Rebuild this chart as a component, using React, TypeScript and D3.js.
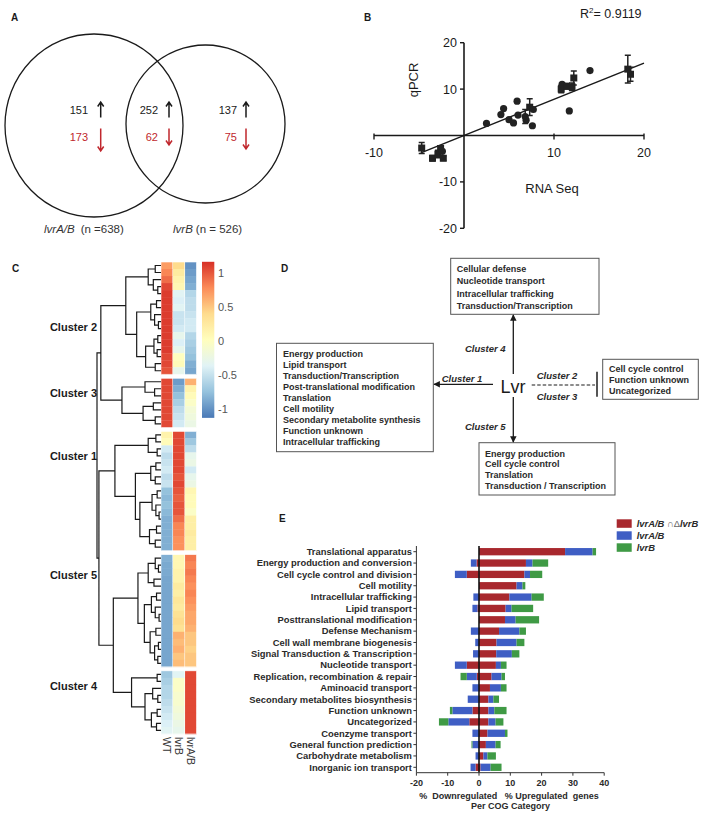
import React from 'react';
import * as d3 from 'd3';

const FONT = '"Liberation Sans", Arial, Helvetica, sans-serif';
const INK = '#1a1a1a';
const RED_TXT = '#c0272d';

// ---------- Panel A: Venn counts ----------
const vennUp = [151, 252, 137];
const vennDown = [173, 62, 75];
const vennNames = ['lvrA/B', 'lvrB'];
const vennN = ['(n =638)', '(n = 526)'];

// ---------- Panel B: qPCR vs RNA seq ----------
const rnaSeq = [-4.7, -3.5, -2.9, -2.6, -2.3, -2.4, 2.5, 4.1, 4.4, 5.0, 5.5, 5.9, 6.0, 6.8, 6.9, 7.3, 7.6, 7.7, 10.8, 10.9, 11.4, 11.7, 12.0, 12.2, 14.0, 18.2, 18.5];
const qpcr = [-2.7, -4.9, -4.0, -2.8, -4.9, -3.4, 2.6, 4.5, 5.8, 3.4, 2.7, 7.4, 4.4, 4.1, 3.3, 6.1, 2.1, 5.6, 10.0, 11.0, 10.6, 5.3, 10.5, 12.4, 14.0, 14.3, 13.2];
const qpcrErr = [1.2, 0.6, 0.8, 0.6, 0.5, 0, 0, 0, 0, 0, 0, 0, 0, 1.5, 0, 1.8, 0, 0, 0.8, 0, 0.6, 0, 0.8, 1.5, 0, 3.0, 1.5];
const markerSq = [1, 1, 1, 1, 1, 0, 0, 0, 0, 0, 0, 0, 0, 0, 0, 1, 0, 0, 1, 0, 1, 0, 1, 1, 0, 1, 1];
const regSlope = 0.78;
const regIntercept = 0.0;
const regRange = [-4.8, 20];
const xTicksB = [-10, 10, 20];
const yTicksB = [20, 10, -10, -20];

// ---------- Panel C: heatmap ----------
const clusterNames = ['Cluster 2', 'Cluster 3', 'Cluster 1', 'Cluster 5', 'Cluster 4'];
const heatCols = ['WT', 'lvrB', 'lvrA/B'];
const heatWT = [
  [0.7, 0.8, 0.9, 1.05, 1.1, 1.1, 1.1, 1.1, 1.1, 1.1, 1.1, 1.1, 1.1, 1.05, 1.05, 1.0],
  [1.05, 1.05, 1.05, 1.05, 1.05, 1.05, 1.05],
  [0.15, 0.05, -0.45, -0.55, -0.5, -0.45, -0.55, -0.5, -0.75, -0.8, -0.75, -0.8, -0.85, -0.85, -0.85, -0.85, -0.85],
  [-0.85, -0.88, -0.88, -0.9, -0.9, -0.9, -0.9, -0.9, -0.9, -0.9, -0.9, -0.9, -0.9, -0.9, -0.9, -0.9],
  [-0.7, -0.65, -0.6, -0.6, -0.55, -0.5, -0.45, -0.4, -0.35],
];
const heatB = [
  [0.4, 0.25, 0.15, 0.1, -0.35, -0.4, -0.35, -0.5, -0.5, -0.45, -0.3, -0.4, -0.3, 0.0, 0.05, -0.3],
  [-0.95, -0.85, -0.75, -0.65, -0.55, -0.5, -0.45],
  [1.05, 1.05, 1.05, 1.05, 1.05, 1.05, 1.0, 1.05, 1.0, 0.95, 1.0, 1.0, 0.9, 0.8, 0.8, 0.75, 0.75],
  [0.1, 0.1, 0.15, 0.15, 0.25, 0.2, 0.3, 0.25, 0.35, 0.4, 0.35, 0.6, 0.55, 0.6, 0.5, 0.55],
  [-0.35, -0.05, -0.05, -0.1, -0.1, -0.15, -0.2, -0.25, -0.3],
];
const heatAB = [
  [-1.0, -0.95, -0.9, -0.85, -0.6, -0.55, -0.55, -0.5, -0.45, -0.45, -0.6, -0.65, -0.7, -0.75, -0.85, -0.9],
  [0.6, 0.15, 0.05, -0.05, -0.15, -0.2, -0.25],
  [-0.85, -0.7, -0.55, -0.3, -0.25, -0.45, -0.3, -0.25, 0.1, 0.05, 0.05, -0.05, 0.2, 0.2, 0.25, 0.2, 0.2],
  [0.85, 0.8, 0.85, 0.8, 0.75, 0.8, 0.75, 0.7, 0.65, 0.65, 0.6, 0.5, 0.5, 0.45, 0.5, 0.5],
  [1.05, 1.05, 1.05, 1.05, 1.05, 1.05, 1.05, 1.05, 1.05],
];
const colorbarTicks = [1, 0.5, 0, -0.5, -1];

// dendrogram: leaf = 0, node = [height, left, right]
type T = 0 | [number, T, T];
const treeC2: T = [5.5, [2.0, [0.9, 0, 0], [1.2, 0, [0.5, 0, 0]]], [3.8, [1.6, [0.7, 0, 0], [1.0, 0, [0.4, 0, 0]]], [2.4, [1.1, [0.5, 0, 0], [0.6, 0, 0]], [0.9, 0, 0]]]];
const treeC3: T = [6.1, [2.5, 0, [1.0, 0, 0]], [2.8, [1.2, 0, 0], [0.9, 0, 0]]];
const treeC1: T = [7.2, [2.0, [0.8, 0, 0], [0.6, 0, 0]], [4.0, [1.6, [0.8, 0, 0], [0.9, 0, 0]], [3.3, [1.4, [0.6, 0, 0], [0.8, 0, [0.3, 0, 0]]], [1.8, [0.7, 0, 0], [0.9, 0, 0]]]]];
const treeC5: T = [3.6, [2.0, [0.9, 0, [0.4, 0, 0]], [1.1, 0, 0]], [2.6, [1.5, [0.7, 0, 0], [0.9, 0, [0.3, 0, 0]]], [1.7, [0.8, 0, 0], [1.0, [0.4, 0, 0], [0.5, 0, 0]]]]];
const treeC4: T = [4.6, [0.6, 0, 0], [2.5, [1.3, 0, [0.5, 0, 0]], [1.5, [0.6, 0, 0], [0.7, 0, 0]]]];
const treeRoot: T = [10, [9.4, treeC2, treeC3], [9.7, treeC1, [7.45, treeC5, treeC4]]];

// ---------- Panel D: network summary ----------
const boxTop = ['Cellular defense', 'Nucleotide transport', 'Intracellular trafficking', 'Transduction/Transcription'];
const boxLeft = ['Energy production', 'Lipid transport', 'Transduction/Transcription', 'Post-translational modification', 'Translation', 'Cell motility', 'Secondary metabolite synthesis', 'Function unknown', 'Intracellular trafficking'];
const boxRight = ['Cell cycle control', 'Function unknown', 'Uncategorized'];
const boxBottom = ['Energy production', 'Cell cycle control', 'Translation', 'Transduction / Transcription'];

// ---------- Panel E: COG categories ----------
const cogCats = ['Translational apparatus', 'Energy production and conversion', 'Cell cycle control and division', 'Cell motility', 'Intracellular trafficking', 'Lipid transport', 'Posttranslational modification', 'Defense Mechanism', 'Cell wall membrane biogenesis', 'Signal Transduction & Transcription', 'Nucleotide transport', 'Replication, recombination & repair', 'Aminoacid transport', 'Secondary metabolites biosynthesis', 'Function unknown', 'Uncategorized', 'Coenzyme transport', 'General function prediction', 'Carbohydrate metabolism', 'Inorganic ion transport'];
const upBoth = [27.5, 15.0, 14.5, 12.0, 9.7, 8.5, 8.3, 6.4, 5.6, 5.5, 5.4, 4.0, 3.5, 3.0, 3.0, 3.0, 2.7, 2.2, 1.4, 0.5];
const upAB = [8.8, 2.1, 1.8, 1.9, 7.1, 1.9, 3.4, 6.5, 6.4, 5.0, 1.6, 3.2, 3.5, 1.6, 1.9, 2.3, 5.6, 3.1, 1.3, 3.2];
const upB = [1.1, 5.0, 3.9, 0.9, 3.9, 6.9, 7.5, 2.1, 2.5, 2.4, 1.8, 1.1, 1.8, 1.8, 3.9, 2.5, 0.8, 1.6, 2.7, 3.5];
const downBoth = [0, 0.8, 3.9, 0, 0, 0.5, 0, 0, 0, 0, 3.9, 0.7, 0, 0, 2.1, 3.1, 0, 0, 0, 1.1];
const downAB = [0, 1.8, 3.8, 0, 1.8, 1.6, 0, 2.6, 1.2, 1.9, 3.8, 3.2, 2.1, 3.6, 6.4, 6.7, 2.1, 2.1, 1.1, 1.6];
const downB = [0, 0, 0, 0, 0, 0, 0, 0, 0, 0, 0, 2.0, 0, 0, 0.8, 3.0, 0, 0.3, 0, 0];
const cogTicks = [-20, -10, 0, 10, 20, 30, 40];
const cogColors = ['#a8282e', '#3f5ec4', '#3f9a45'];

function Label({ x, y, children, size = 10, weight = 'bold' }: any) {
  return <text x={x} y={y} fontSize={size} fontWeight={weight} fill={INK}>{children}</text>;
}

function PanelA() {
  const upX = [100.7, 169, 246];
  const numX = [88, 158, 237];
  const downLen = [22, 16, 20];
  return (
    <g>
      <Label x={11} y={21}>A</Label>
      <ellipse cx={94} cy={125.5} rx={89} ry={91.5} fill="none" stroke={INK} strokeWidth={1.3} />
      <ellipse cx={205.5} cy={124} rx={79.5} ry={79} fill="none" stroke={INK} strokeWidth={1.3} />
      {vennUp.map((v, i) => (
        <g key={'u' + i}>
          <text x={numX[i]} y={114} textAnchor="end" fontSize={11} fill={INK}>{v}</text>
          <path d={`M${upX[i]},117.5V102.5M${upX[i] - 3},106.5L${upX[i]},102L${upX[i] + 3},106.5`} stroke={INK} strokeWidth={1.5} fill="none" />
        </g>
      ))}
      {vennDown.map((v, i) => (
        <g key={'d' + i}>
          <text x={numX[i]} y={141} textAnchor="end" fontSize={11} fill={RED_TXT}>{v}</text>
          <path d={`M${upX[i]},128.5V${128.5 + downLen[i]}M${upX[i] - 3},${124.5 + downLen[i]}L${upX[i]},${129 + downLen[i]}L${upX[i] + 3},${124.5 + downLen[i]}`} stroke={RED_TXT} strokeWidth={1.5} fill="none" />
        </g>
      ))}
      <text x={44} y={233} fontSize={11.5} fill="#333">
        <tspan fontStyle="italic">{vennNames[0]}</tspan>
        <tspan dx={6}>{vennN[0]}</tspan>
      </text>
      <text x={173} y={233} fontSize={11.5} fill="#333">
        <tspan fontStyle="italic">{vennNames[1]}</tspan>
        <tspan dx={3}>{vennN[1]}</tspan>
      </text>
    </g>
  );
}

function PanelB() {
  const x = d3.scaleLinear().domain([-10, 20]).range([374, 644]);
  const y = d3.scaleLinear().domain([-20, 20]).range([228.3, 42.7]);
  const line = d3.line<number>().x((d) => x(d)).y((d) => y(regIntercept + regSlope * d));
  return (
    <g>
      <Label x={364} y={21}>B</Label>
      <text x={580} y={18} fontSize={12.5} fill={INK}>
        R<tspan dy={-5} fontSize={8}>2</tspan><tspan dy={5}>= 0.9119</tspan>
      </text>
      <line x1={x(-10)} x2={x(20)} y1={y(0)} y2={y(0)} stroke={INK} strokeWidth={1.6} />
      <line x1={x(0)} x2={x(0)} y1={y(20)} y2={y(-20)} stroke={INK} strokeWidth={1.6} />
      {xTicksB.map((t) => (
        <g key={t}>
          <line x1={x(t)} x2={x(t)} y1={y(0) - 2} y2={y(0) + 4} stroke={INK} strokeWidth={1.4} />
          <text x={x(t)} y={y(0) + 21} textAnchor="middle" fontSize={12.5} fill={INK}>{t}</text>
        </g>
      ))}
      {yTicksB.map((t) => (
        <g key={t}>
          <line x1={x(0) - 4} x2={x(0)} y1={y(t)} y2={y(t)} stroke={INK} strokeWidth={1.4} />
          <text x={x(0) - 7} y={y(t) + 4.5} textAnchor="end" fontSize={12.5} fill={INK}>{t}</text>
        </g>
      ))}
      <text transform={`translate(418,80) rotate(-90)`} textAnchor="middle" fontSize={13} fill={INK}>qPCR</text>
      <text x={552} y={193} textAnchor="middle" fontSize={13} fill={INK}>RNA Seq</text>
      <path d={line(regRange) || ''} stroke={INK} strokeWidth={1.5} fill="none" />
      {rnaSeq.map((v, i) => (
        <g key={i} fill="#222" stroke="#222">
          {qpcrErr[i] > 0 && (
            <path d={`M${x(v)},${y(qpcr[i] - qpcrErr[i])}V${y(qpcr[i] + qpcrErr[i])}M${x(v) - 3},${y(qpcr[i] - qpcrErr[i])}h6M${x(v) - 3},${y(qpcr[i] + qpcrErr[i])}h6`} strokeWidth={1.5} fill="none" />
          )}
          {markerSq[i] ? (
            <rect x={x(v) - 3.5} y={y(qpcr[i]) - 3.5} width={7} height={7} stroke="none" />
          ) : (
            <circle cx={x(v)} cy={y(qpcr[i])} r={3.6} stroke="none" />
          )}
        </g>
      ))}
    </g>
  );
}

function PanelC() {
  const top = 262;
  const gap = 4;
  const rowH = 7.015;
  const colX = d3.scaleBand().domain(heatCols).range([161, 196.5]).paddingInner(0.05);
  const color = d3
    .scaleLinear<string>()
    .domain([-1.15, -0.77, -0.38, 0, 0.38, 0.77, 1.15])
    .range(['#4575B4', '#91BFDB', '#E0F3F8', '#FFFFBF', '#FEE090', '#FC8D59', '#D73027'])
    .clamp(true);
  const rowY: number[] = [];
  const clusterSpan: [number, number][] = [];
  let cursor = top;
  heatWT.forEach((rows) => {
    const start = cursor;
    rows.forEach(() => {
      rowY.push(cursor + rowH / 2);
      cursor += rowH;
    });
    clusterSpan.push([start, cursor]);
    cursor += gap;
  });
  const hx = d3.scaleLinear().domain([0, 10]).range([161, 97]);
  const paths: string[] = [];
  const counter = { i: 0 };
  const walk = (n: T): { y: number; h: number } => {
    if (n === 0) return { y: rowY[counter.i++], h: 0 };
    const a = walk(n[1]);
    const b = walk(n[2]);
    paths.push(`M${hx(a.h)},${a.y}H${hx(n[0])}V${b.y}H${hx(b.h)}`);
    return { y: (a.y + b.y) / 2, h: n[0] };
  };
  walk(treeRoot);
  const clusterLabelY = [326.7, 393, 456, 575, 686];
  const cols = [heatWT, heatB, heatAB];
  const cb = d3.scaleLinear().domain([-1, 1]).range([409, 272.7]);
  const cbStops = d3.range(0, 1.0001, 1 / 6);
  return (
    <g>
      <defs>
        <linearGradient id="cbgrad" x1="0" y1="1" x2="0" y2="0">
          {cbStops.map((t, i) => (
            <stop key={i} offset={t} stopColor={color(-1.13 + t * 2.29)} />
          ))}
        </linearGradient>
      </defs>
      <Label x={12} y={272}>C</Label>
      {cols.map((col, ci) =>
        col.map((rows, k) => {
          const base = col.slice(0, k).reduce((s, r) => s + r.length, 0);
          return rows.map((v, r) => (
            <rect key={`${ci}-${k}-${r}`} x={colX(heatCols[ci])} y={rowY[base + r] - rowH / 2} width={colX.bandwidth()} height={rowH + 0.3} fill={color(v)} />
          ));
        })
      )}
      {clusterSpan.map(([a, b], k) => (
        <rect key={'cs' + k} x={161} y={a} width={35.5} height={b - a} fill="none" stroke="#fff" strokeWidth={0.6} />
      ))}
      <path d={paths.join('')} stroke={INK} strokeWidth={1.2} fill="none" />
      {clusterNames.map((c, k) => (
        <text key={c} x={97} y={clusterLabelY[k] + 4} textAnchor="end" fontSize={11} fontWeight="bold" fill={INK}>{c}</text>
      ))}
      {heatCols.map((c) => (
        <text key={c} transform={`translate(${(colX(c) || 0) + colX.bandwidth() / 2 - 3.5},737) rotate(90)`} fontSize={10.5} fill="#333">{c}</text>
      ))}
      <rect x={202} y={cb(1.16)} width={12.3} height={cb(-1.13) - cb(1.16)} fill="url(#cbgrad)" />
      {colorbarTicks.map((t) => (
        <text key={t} x={218} y={cb(t) + 4} fontSize={11} fill="#555">{t}</text>
      ))}
    </g>
  );
}

function Box({ x, y, w, h, lines, tx, ty, step }: any) {
  return (
    <g>
      <rect x={x} y={y} width={w} height={h} fill="#fff" stroke="#555" strokeWidth={1} />
      {lines.map((l: string, i: number) => (
        <text key={i} x={tx} y={ty + i * step} fontSize={9} fontWeight="bold" fill="#2a2a2a">{l}</text>
      ))}
    </g>
  );
}

function PanelD() {
  const it = { fontSize: 9.5, fontWeight: 'bold', fontStyle: 'italic', fill: '#2a2a2a' } as any;
  return (
    <g>
      <defs>
        <marker id="arr" viewBox="0 0 10 10" refX="9" refY="5" markerWidth="5" markerHeight="5" orient="auto">
          <path d="M0,0L10,5L0,10z" fill={INK} />
        </marker>
      </defs>
      <Label x={281} y={272}>D</Label>
      <Box x={450.7} y={258.3} w={148.3} h={56} lines={boxTop} tx={456.7} ty={271.6} step={12.6} />
      <Box x={276.5} y={343.3} w={156.8} h={108.4} lines={boxLeft} tx={283} ty={356.6} step={11.1} />
      <Box x={602.7} y={359.3} w={95.6} h={40} lines={boxRight} tx={609} ty={372.3} step={11} />
      <Box x={479} y={442.7} w={136} h={52.3} lines={boxBottom} tx={485} ty={456.5} step={10.9} />
      <text x={513} y={392.5} textAnchor="middle" fontSize={18} fill={INK}>Lvr</text>
      <line x1={493} y1={384.3} x2={434} y2={384.3} stroke={INK} strokeWidth={1.3} markerEnd="url(#arr)" />
      <line x1={513.3} y1={374} x2={513.3} y2={315} stroke={INK} strokeWidth={1.3} markerEnd="url(#arr)" />
      <line x1={513.3} y1={397} x2={513.3} y2={442} stroke={INK} strokeWidth={1.3} markerEnd="url(#arr)" />
      <line x1={531.7} y1={385} x2={595} y2={385} stroke={INK} strokeWidth={1.2} strokeDasharray="3.5,2" />
      <line x1={597} y1={371.7} x2={597} y2={396.7} stroke="#555" strokeWidth={2} />
      <text x={441.7} y={381.5} {...it}>Cluster 1</text>
      <text x={465} y={351.5} {...it}>Cluster 4</text>
      <text x={465} y={430} {...it}>Cluster 5</text>
      <text x={536.7} y={379} {...it}>Cluster 2</text>
      <text x={536.7} y={399.5} {...it}>Cluster 3</text>
    </g>
  );
}

function PanelE() {
  const x = d3.scaleLinear().domain([-20, 40]).range([416.4, 604.2]);
  const y = d3.scalePoint().domain(cogCats).range([551.7, 767.3]);
  const bh = 7.3;
  const axisY = 772.7;
  const segs: { x0: number; x1: number; y: number; c: string; k: string }[] = [];
  cogCats.forEach((cat, i) => {
    const yy = y(cat) || 0;
    const up = [upBoth[i], upAB[i], upB[i]];
    const dn = [downBoth[i], downAB[i], downB[i]];
    let acc = 0;
    up.forEach((v, j) => {
      if (v > 0) segs.push({ x0: acc, x1: acc + v, y: yy, c: cogColors[j], k: `u${i}${j}` });
      acc += v;
    });
    acc = 0;
    dn.forEach((v, j) => {
      if (v > 0) segs.push({ x0: -acc - v, x1: -acc, y: yy, c: cogColors[j], k: `d${i}${j}` });
      acc += v;
    });
  });
  const legend = [
    { c: cogColors[0], main: 'lvrA/B', extra: ' \u2229\u0394', tail: 'lvrB' },
    { c: cogColors[1], main: 'lvrA/B', extra: '', tail: '' },
    { c: cogColors[2], main: 'lvrB', extra: '', tail: '' },
  ];
  return (
    <g>
      <Label x={279} y={522}>E</Label>
      {segs.map((s) => (
        <rect key={s.k} x={x(s.x0)} y={s.y - bh / 2} width={x(s.x1) - x(s.x0)} height={bh} fill={s.c} />
      ))}
      <line x1={x(0)} x2={x(0)} y1={546} y2={axisY} stroke="#111" strokeWidth={1.6} />
      <line x1={x(-20)} x2={x(-20)} y1={546} y2={axisY} stroke="#333" strokeWidth={1} />
      <line x1={x(-20)} x2={x(40)} y1={axisY} y2={axisY} stroke="#333" strokeWidth={1} />
      {cogCats.map((c) => (
        <g key={c}>
          <line x1={x(-20) - 3} x2={x(-20)} y1={y(c)} y2={y(c)} stroke="#333" strokeWidth={1} />
          <text x={x(-20) - 4.5} y={(y(c) || 0) + 3.3} textAnchor="end" fontSize={9.4} fontWeight="bold" fill="#2a2a2a">{c}</text>
        </g>
      ))}
      {cogTicks.map((t) => (
        <g key={t}>
          <line x1={x(t)} x2={x(t)} y1={axisY} y2={axisY + 3} stroke="#333" strokeWidth={1} />
          <text x={x(t)} y={axisY + 13.5} textAnchor="middle" fontSize={9} fontWeight="bold" fill="#2a2a2a">{t}</text>
        </g>
      ))}
      <text x={509} y={799} textAnchor="middle" fontSize={9} fontWeight="bold" fill="#2a2a2a" style={{ whiteSpace: 'pre' }}>
        {'%  Downregulated   % Upregulated  genes'}
      </text>
      <text x={510.5} y={808.5} textAnchor="middle" fontSize={9} fontWeight="bold" fill="#2a2a2a">Per COG Category</text>
      {legend.map((l, i) => (
        <g key={i}>
          <rect x={616.7} y={519.3 + i * 12} width={15} height={8.5} fill={l.c} />
          <text x={636.7} y={527 + i * 12} fontSize={9.4} fontStyle="italic" fontWeight="bold" fill="#2a2a2a">
            {l.main}
            {l.extra && <tspan fontWeight="normal" fontStyle="normal" fill="#666">{l.extra}</tspan>}
            {l.tail && <tspan>{l.tail}</tspan>}
          </text>
        </g>
      ))}
    </g>
  );
}

export default function App() {
  return (
    <svg width={708} height={814} style={{ position: 'absolute', left: 0, top: 0, background: '#fff' }} fontFamily={FONT}>
      <rect width={708} height={814} fill="#fff" />
      <PanelA />
      <PanelB />
      <PanelC />
      <PanelD />
      <PanelE />
    </svg>
  );
}
